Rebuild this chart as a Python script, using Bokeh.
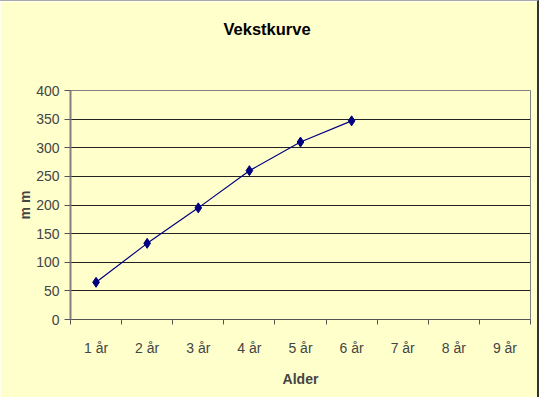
from bokeh.plotting import figure
from bokeh.models import Range1d, FixedTicker, ColumnDataSource, Title
from bokeh.embed import file_html
from bokeh.resources import INLINE

categories = ["1 år", "2 år", "3 år", "4 år", "5 år", "6 år", "7 år", "8 år", "9 år"]
values = [65, 133, 195, 260, 310, 347]
y_ticks = [0, 50, 100, 150, 200, 250, 300, 350, 400]
title_text = "Vekstkurve"

FONT = "Liberation Sans"
BG = "#FFFFCC"

xs = [i + 0.5 for i in range(len(values))]
src = ColumnDataSource(dict(x=xs, y=values))

p = figure(width=539, height=397, output_backend="svg", toolbar_location=None,
           x_range=Range1d(0, len(categories)), y_range=Range1d(0, 400),
           min_border_left=70, min_border_right=9, min_border_top=89, min_border_bottom=79)

p.background_fill_color = BG
p.border_fill_color = BG
p.outline_line_color = "#808080"
p.outline_line_width = 1
p.styles = {"border-right": "2px solid #333333", "border-top": "1px solid #aaaaaa"}

# spacer between frame and title
p.add_layout(Title(text=" ", text_font_size="1px", standoff=50), "above")

p.title.text = title_text
p.title.align = "left"
p.title.offset = 153
p.title.standoff = 0
p.title.text_font = FONT
p.title.text_font_style = "bold"
p.title.text_font_size = "16.5px"
p.title.text_color = "#000000"

# x axis
p.xaxis.ticker = FixedTicker(ticks=[i + 0.5 for i in range(len(categories))],
                             minor_ticks=list(range(0, len(categories) + 1)))
p.xaxis.major_label_overrides = {i + 0.5: c for i, c in enumerate(categories)}
p.xaxis.major_tick_line_color = None
p.xaxis.major_tick_out = 5
p.xaxis.minor_tick_out = 5
p.xaxis.minor_tick_in = 0
p.xaxis.minor_tick_line_color = "#555555"
p.xaxis.axis_line_color = "#555555"
p.xaxis.axis_label = "Alder"
p.xaxis.axis_label_text_font = FONT
p.xaxis.axis_label_text_font_style = "bold"
p.xaxis.axis_label_text_font_size = "14px"
p.xaxis.major_label_text_font = FONT
p.xaxis.major_label_text_font_size = "14px"
p.xaxis.major_label_standoff = 15
p.xaxis.axis_label_standoff = 12

# y axis
p.yaxis.ticker = FixedTicker(ticks=y_ticks)
p.yaxis.minor_tick_line_color = None
p.yaxis.major_tick_out = 6
p.yaxis.major_tick_in = 0
p.yaxis.major_tick_line_color = "#555555"
p.yaxis.axis_line_color = "#808080"
p.yaxis.axis_line_width = 2
p.yaxis.axis_label = "m m"
p.yaxis.axis_label_text_font = FONT
p.yaxis.axis_label_text_font_style = "bold"
p.yaxis.axis_label_text_font_size = "14px"
p.yaxis.major_label_text_font = FONT
p.yaxis.major_label_text_font_size = "14px"
p.yaxis.major_label_standoff = 5
p.yaxis.axis_label_standoff = 0

p.xgrid.grid_line_color = None
p.ygrid.grid_line_color = "#222222"
p.ygrid.grid_line_width = 1

p.line("x", "y", source=src, line_color="#000080", line_width=1.2)
p.scatter("x", "y", source=src, marker="diamond", size=10, fill_color="#000080", line_color="#000080")

open("out.html", "w").write(file_html(p, INLINE))
